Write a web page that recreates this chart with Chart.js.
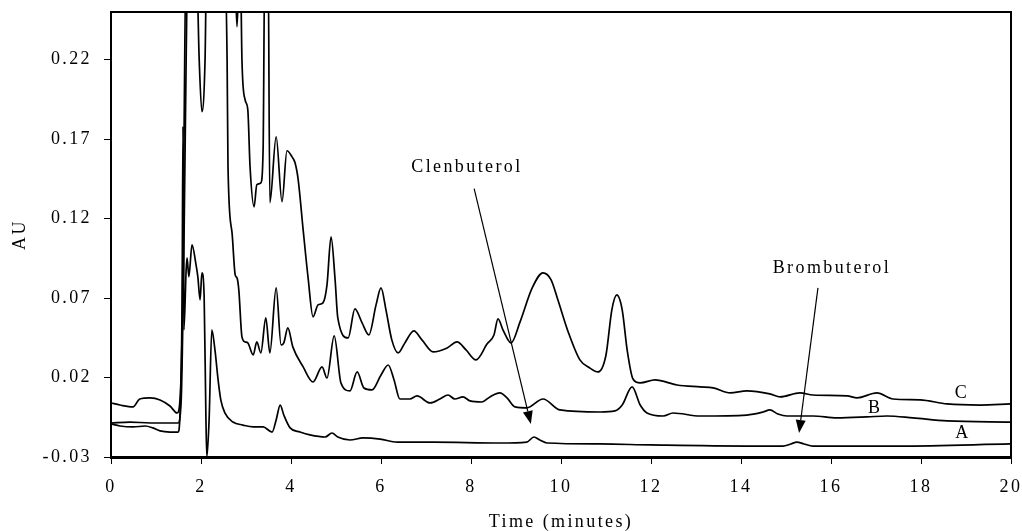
<!DOCTYPE html>
<html lang="en">
<head>
<meta charset="UTF-8">
<title>Chromatogram A / B / C</title>
<script src="https://cdn.jsdelivr.net/npm/chart.js"></script>
<style>
  html, body { margin: 0; padding: 0; background: #fff; }
  #wrap { width: 1022px; height: 531px; }
</style>
</head>
<body>
<div id="wrap"><canvas id="chart" width="1022" height="531"></canvas></div>
<script>
// [time (min), absorbance (AU)]
const traceA = [
  [0, -0.0092], [0.2, -0.0105], [0.49, -0.0111], [0.76, -0.0105], [0.93, -0.0117], [1.09, -0.0136],
  [1.31, -0.0143], [1.49, -0.0143], [1.53, -0.0054], [1.58, 0.0689], [1.6, 0.178], [1.62, 0.05],
  [1.67, 0.0878], [1.69, 0.0953], [1.73, 0.0834], [1.8, 0.1035], [1.89, 0.0909], [1.93, 0.0834],
  [1.98, 0.0689], [2.02, 0.0859], [2.07, 0.0708], [2.11, -0.0067], [2.13, -0.03], [2.18, -0.0067],
  [2.24, 0.05], [2.31, 0.0374], [2.38, 0.0185], [2.44, 0.0059], [2.53, -0.0023], [2.71, -0.008],
  [2.93, -0.0099], [3.16, -0.0111], [3.38, -0.0111], [3.58, -0.0143], [3.67, -0.0067], [3.76, 0.0027],
  [3.84, -0.0036], [3.98, -0.0117], [4.2, -0.0143], [4.42, -0.0161], [4.76, -0.0174], [4.91, -0.0149],
  [5.04, -0.0174], [5.31, -0.0193], [5.6, -0.018], [5.98, -0.0187], [6.36, -0.0206], [7.16, -0.0206],
  [8.64, -0.0212], [9.24, -0.0206], [9.4, -0.0174], [9.53, -0.0193], [9.69, -0.0212], [10.87, -0.0218],
  [11.98, -0.0224], [14.13, -0.0231], [14.93, -0.0231], [15.11, -0.0218], [15.24, -0.0206], [15.4, -0.0218],
  [15.6, -0.0231], [17.53, -0.0231], [19.98, -0.0218]
];
const traceB = [
  [0, -0.0086], [0.42, -0.008], [0.87, -0.0086], [1.2, -0.0086], [1.49, -0.0086], [1.56, 0.0059],
  [1.62, 0.1004], [1.67, 0.22], [1.71, 0.29], [1.89, 0.29], [1.96, 0.22], [2.02, 0.1873],
  [2.09, 0.22], [2.13, 0.29], [2.51, 0.29], [2.58, 0.22], [2.6, 0.1526], [2.69, 0.111],
  [2.76, 0.0846], [2.8, 0.0827], [2.84, 0.0752], [2.91, 0.0456], [2.98, 0.0424], [3.04, 0.0418],
  [3.16, 0.0342], [3.24, 0.0424], [3.33, 0.0355], [3.44, 0.0575], [3.53, 0.0355], [3.67, 0.0764],
  [3.78, 0.0405], [3.84, 0.0418], [3.93, 0.0512], [4.04, 0.0393], [4.27, 0.0267], [4.49, 0.0172],
  [4.69, 0.0267], [4.8, 0.0197], [4.96, 0.0462], [5.11, 0.0166], [5.31, 0.0116], [5.47, 0.0235],
  [5.62, 0.0134], [5.8, 0.0122], [6.0, 0.0216], [6.16, 0.0279], [6.29, 0.0185], [6.42, 0.0065],
  [6.64, 0.0065], [6.8, 0.0084], [7.09, 0.004], [7.31, 0.0065], [7.49, 0.009], [7.64, 0.0065],
  [7.82, 0.0078], [7.98, 0.0053], [8.24, 0.0046], [8.42, 0.0078], [8.64, 0.0103], [8.8, 0.0072],
  [8.98, 0.0015], [9.24, 0.0009], [9.6, 0.0065], [9.98, -0.0004], [10.87, -0.0017], [11.2, -0.001],
  [11.36, 0.0027], [11.58, 0.0141], [11.76, 0.0027], [11.91, -0.0023], [12.27, -0.0042], [12.49, -0.0023],
  [13.09, -0.0042], [14.13, -0.0036], [14.49, -0.0017], [14.64, -0.0004], [14.82, -0.0029], [15.02, -0.0042],
  [15.6, -0.0042], [16.13, -0.0054], [16.8, -0.0048], [17.24, -0.0042], [17.82, -0.0054], [18.58, -0.0073],
  [19.98, -0.008]
];
const traceC = [
  [0, 0.004], [0.2, 0.0027], [0.49, 0.0015], [0.64, 0.0065], [0.87, 0.0072], [1.09, 0.0059],
  [1.31, 0.0021], [1.47, -0.0023], [1.51, -0.0004], [1.58, 0.05], [1.62, 0.1633], [1.67, 0.29],
  [2.73, 0.29], [2.8, 0.2408], [2.87, 0.29], [2.91, 0.22], [2.98, 0.1948], [3.04, 0.1885],
  [3.09, 0.1526], [3.18, 0.1274], [3.24, 0.1413], [3.33, 0.1425], [3.38, 0.1633], [3.42, 0.29],
  [3.49, 0.29], [3.53, 0.13], [3.67, 0.1715], [3.8, 0.1306], [3.91, 0.1627], [4.02, 0.159],
  [4.09, 0.1551], [4.16, 0.1444], [4.27, 0.1129], [4.38, 0.0827], [4.49, 0.0582], [4.6, 0.0657],
  [4.71, 0.067], [4.8, 0.0783], [4.89, 0.1085], [4.98, 0.0815], [5.04, 0.0575], [5.27, 0.0449],
  [5.42, 0.0632], [5.58, 0.0544], [5.73, 0.0468], [5.89, 0.0657], [6.0, 0.0764], [6.11, 0.0626],
  [6.24, 0.0437], [6.38, 0.0355], [6.53, 0.0418], [6.73, 0.0493], [6.91, 0.0437], [7.16, 0.0361],
  [7.47, 0.0386], [7.69, 0.0424], [7.89, 0.0374], [8.11, 0.0311], [8.36, 0.0412], [8.51, 0.0468],
  [8.6, 0.0569], [8.71, 0.05], [8.89, 0.0418], [9.09, 0.055], [9.36, 0.0764], [9.6, 0.0859],
  [9.78, 0.0815], [9.93, 0.0689], [10.16, 0.0487], [10.42, 0.0311], [10.64, 0.026], [10.82, 0.0235],
  [11.0, 0.0342], [11.13, 0.0626], [11.24, 0.072], [11.36, 0.0626], [11.47, 0.0374], [11.6, 0.0191],
  [11.76, 0.0166], [12.09, 0.0185], [12.58, 0.0153], [13.09, 0.0141], [13.38, 0.0135], [13.76, 0.0103],
  [14.13, 0.0116], [14.64, 0.0097], [14.87, 0.0078], [15.31, 0.0103], [15.6, 0.009], [16.36, 0.0084],
  [16.58, 0.0072], [17.02, 0.0103], [17.38, 0.0065], [17.98, 0.0059], [18.58, 0.0034], [19.31, 0.0027],
  [19.98, 0.0034]
];
const yTicks = [-0.03, 0.02, 0.07, 0.12, 0.17, 0.22];

// compound labels with arrows, and trace letters (data coordinates)
const peakNotes = [
  { text: 'Clenbuterol', at: [7.91, 0.152], from: [8.07, 0.1388], to: [9.33, -0.0092] },
  { text: 'Brombuterol', at: [16.02, 0.089], from: [15.71, 0.0764], to: [15.29, -0.0149] }
];
const traceNames = [
  { text: 'C', at: [18.91, 0.0103] },
  { text: 'B', at: [16.98, 0.0009] },
  { text: 'A', at: [18.93, -0.0149] }
];

const serif = 'Liberation Serif, Times New Roman, serif';
const toPoints = arr => arr.map(p => ({ x: p[0], y: p[1] }));

const lineStyle = {
  borderColor: '#000',
  borderWidth: 1.7,
  pointRadius: 0,
  fill: false,
  cubicInterpolationMode: 'monotone'
};

const annotate = {
  id: 'annotate',
  beforeDraw(chart) {
    chart.ctx.letterSpacing = '2.4px';
  },
  afterDatasetsDraw(chart) {
    const { ctx, chartArea: a, scales: { x, y } } = chart;
    ctx.save();
    ctx.strokeStyle = '#000';
    ctx.lineWidth = 2;
    ctx.beginPath();
    ctx.moveTo(a.left, a.top);
    ctx.lineTo(a.right, a.top);
    ctx.lineTo(a.right, a.bottom);
    ctx.stroke();

    ctx.fillStyle = '#000';
    ctx.font = '18px ' + serif;
    ctx.letterSpacing = '2.4px';
    ctx.textAlign = 'center';
    ctx.textBaseline = 'middle';
    peakNotes.forEach(n => {
      ctx.fillText(n.text, x.getPixelForValue(n.at[0]), y.getPixelForValue(n.at[1]));
      const x0 = x.getPixelForValue(n.from[0]), y0 = y.getPixelForValue(n.from[1]);
      const x1 = x.getPixelForValue(n.to[0]), y1 = y.getPixelForValue(n.to[1]);
      const ang = Math.atan2(y1 - y0, x1 - x0);
      const head = 13, half = 5;
      const bx = x1 - head * Math.cos(ang), by = y1 - head * Math.sin(ang);
      ctx.lineWidth = 1.2;
      ctx.beginPath();
      ctx.moveTo(x0, y0);
      ctx.lineTo(bx, by);
      ctx.stroke();
      ctx.beginPath();
      ctx.moveTo(x1, y1);
      ctx.lineTo(bx + half * Math.sin(ang), by - half * Math.cos(ang));
      ctx.lineTo(bx - half * Math.sin(ang), by + half * Math.cos(ang));
      ctx.closePath();
      ctx.fill();
    });
    traceNames.forEach(n => {
      ctx.fillText(n.text, x.getPixelForValue(n.at[0]), y.getPixelForValue(n.at[1]));
    });
    ctx.restore();
  }
};

new Chart(document.getElementById('chart'), {
  type: 'line',
  data: {
    datasets: [
      Object.assign({ label: 'A', data: toPoints(traceA) }, lineStyle),
      Object.assign({ label: 'B', data: toPoints(traceB) }, lineStyle),
      Object.assign({ label: 'C', data: toPoints(traceC) }, lineStyle)
    ]
  },
  options: {
    responsive: false,
    animation: false,
    devicePixelRatio: 1,
    layout: { padding: { top: 12, right: 11, left: 0, bottom: 0 } },
    plugins: { legend: { display: false }, tooltip: { enabled: false } },
    scales: {
      x: {
        type: 'linear',
        min: 0,
        max: 20,
        afterFit(scale) {
          scale.height = 74;
          scale.paddingLeft = 0;
          scale.paddingRight = 0;
        },
        border: { display: true, color: '#000', width: 3 },
        grid: { drawOnChartArea: false, drawTicks: true, tickLength: 7, color: '#000', lineWidth: 1 },
        ticks: { stepSize: 2, color: '#000', padding: 12, maxRotation: 0, font: { family: serif, size: 18 } },
        title: {
          display: true, text: 'Time (minutes)', color: '#000',
          font: { family: serif, size: 18, lineHeight: 1 }, padding: { top: 0, bottom: 0 }
        }
      },
      y: {
        type: 'linear',
        min: -0.03,
        max: 0.25,
        afterFit(scale) {
          scale.width = 111;
          scale.paddingTop = 0;
          scale.paddingBottom = 0;
        },
        afterBuildTicks(scale) { scale.ticks = yTicks.map(v => ({ value: v })); },
        border: { display: true, color: '#000', width: 2 },
        grid: { drawOnChartArea: false, drawTicks: true, tickLength: 7, color: '#000', lineWidth: 1 },
        ticks: {
          color: '#000', padding: 12, font: { family: serif, size: 18 },
          callback: v => v.toFixed(2)
        },
        title: {
          display: true, text: 'AU', color: '#000',
          font: { family: serif, size: 18, lineHeight: 1 }, padding: { top: 11, bottom: 0 }
        }
      }
    }
  },
  plugins: [annotate]
});
</script>
</body>
</html>
